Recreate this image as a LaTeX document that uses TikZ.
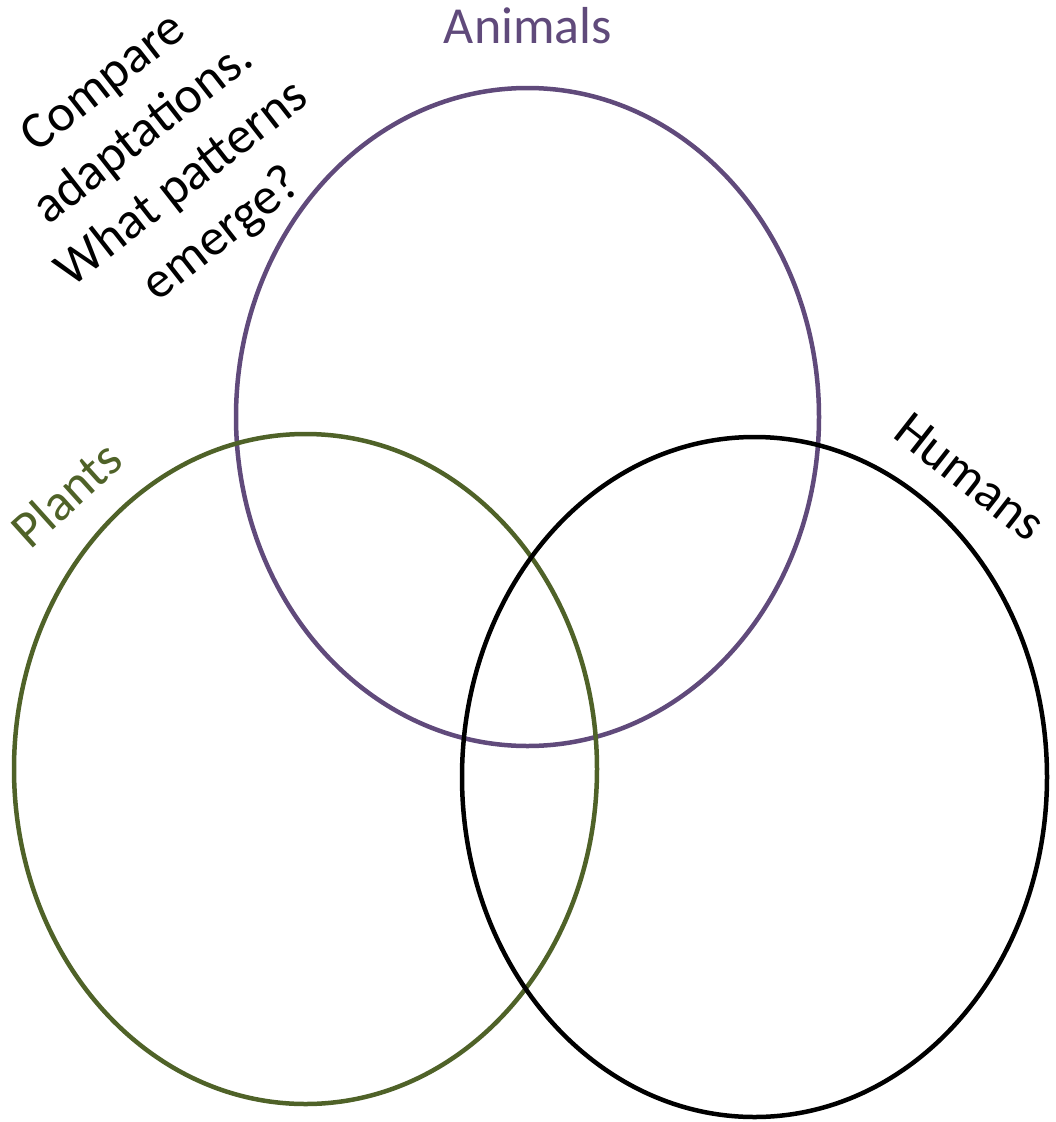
\documentclass[tikz,border=0pt]{standalone}
\usepackage{fontspec}
\setmainfont{Carlito}
\usetikzlibrary{shapes.geometric}
\definecolor{animalpurple}{HTML}{604A7B}
\definecolor{plantgreen}{HTML}{4F6228}
\begin{document}
\begin{tikzpicture}[x=1pt,y=-1pt,
  venn/.style={ellipse, draw, line width=4.5pt, inner sep=0pt, outer sep=0pt},
  lbl/.style={font=\fontsize{52}{64}\selectfont, inner sep=0pt, align=center}]
\useasboundingbox (0,0) rectangle (1056,1122);
\node[venn, draw=animalpurple, minimum width=583pt, minimum height=658pt] (animals) at (527.5,417) {};
\node[venn, draw=plantgreen, minimum width=583pt, minimum height=670pt] (plants) at (305.5,769) {};
\node[venn, draw=black, minimum width=585pt, minimum height=680pt] (humans) at (754.5,777) {};
\node[lbl, text=animalpurple, anchor=base] (tanimals) at (528,43) {Animals};
\node[lbl, text=plantgreen, rotate=42] (tplants) at (66,494) {Plants};
\node[lbl, text=black, rotate=-38] (thumans) at (970,477) {Humans};
\node[lbl, text=black, rotate=38] (tq) at (164,160) {Compare\\adaptations.\\What patterns\\emerge?};
\end{tikzpicture}
\end{document}
